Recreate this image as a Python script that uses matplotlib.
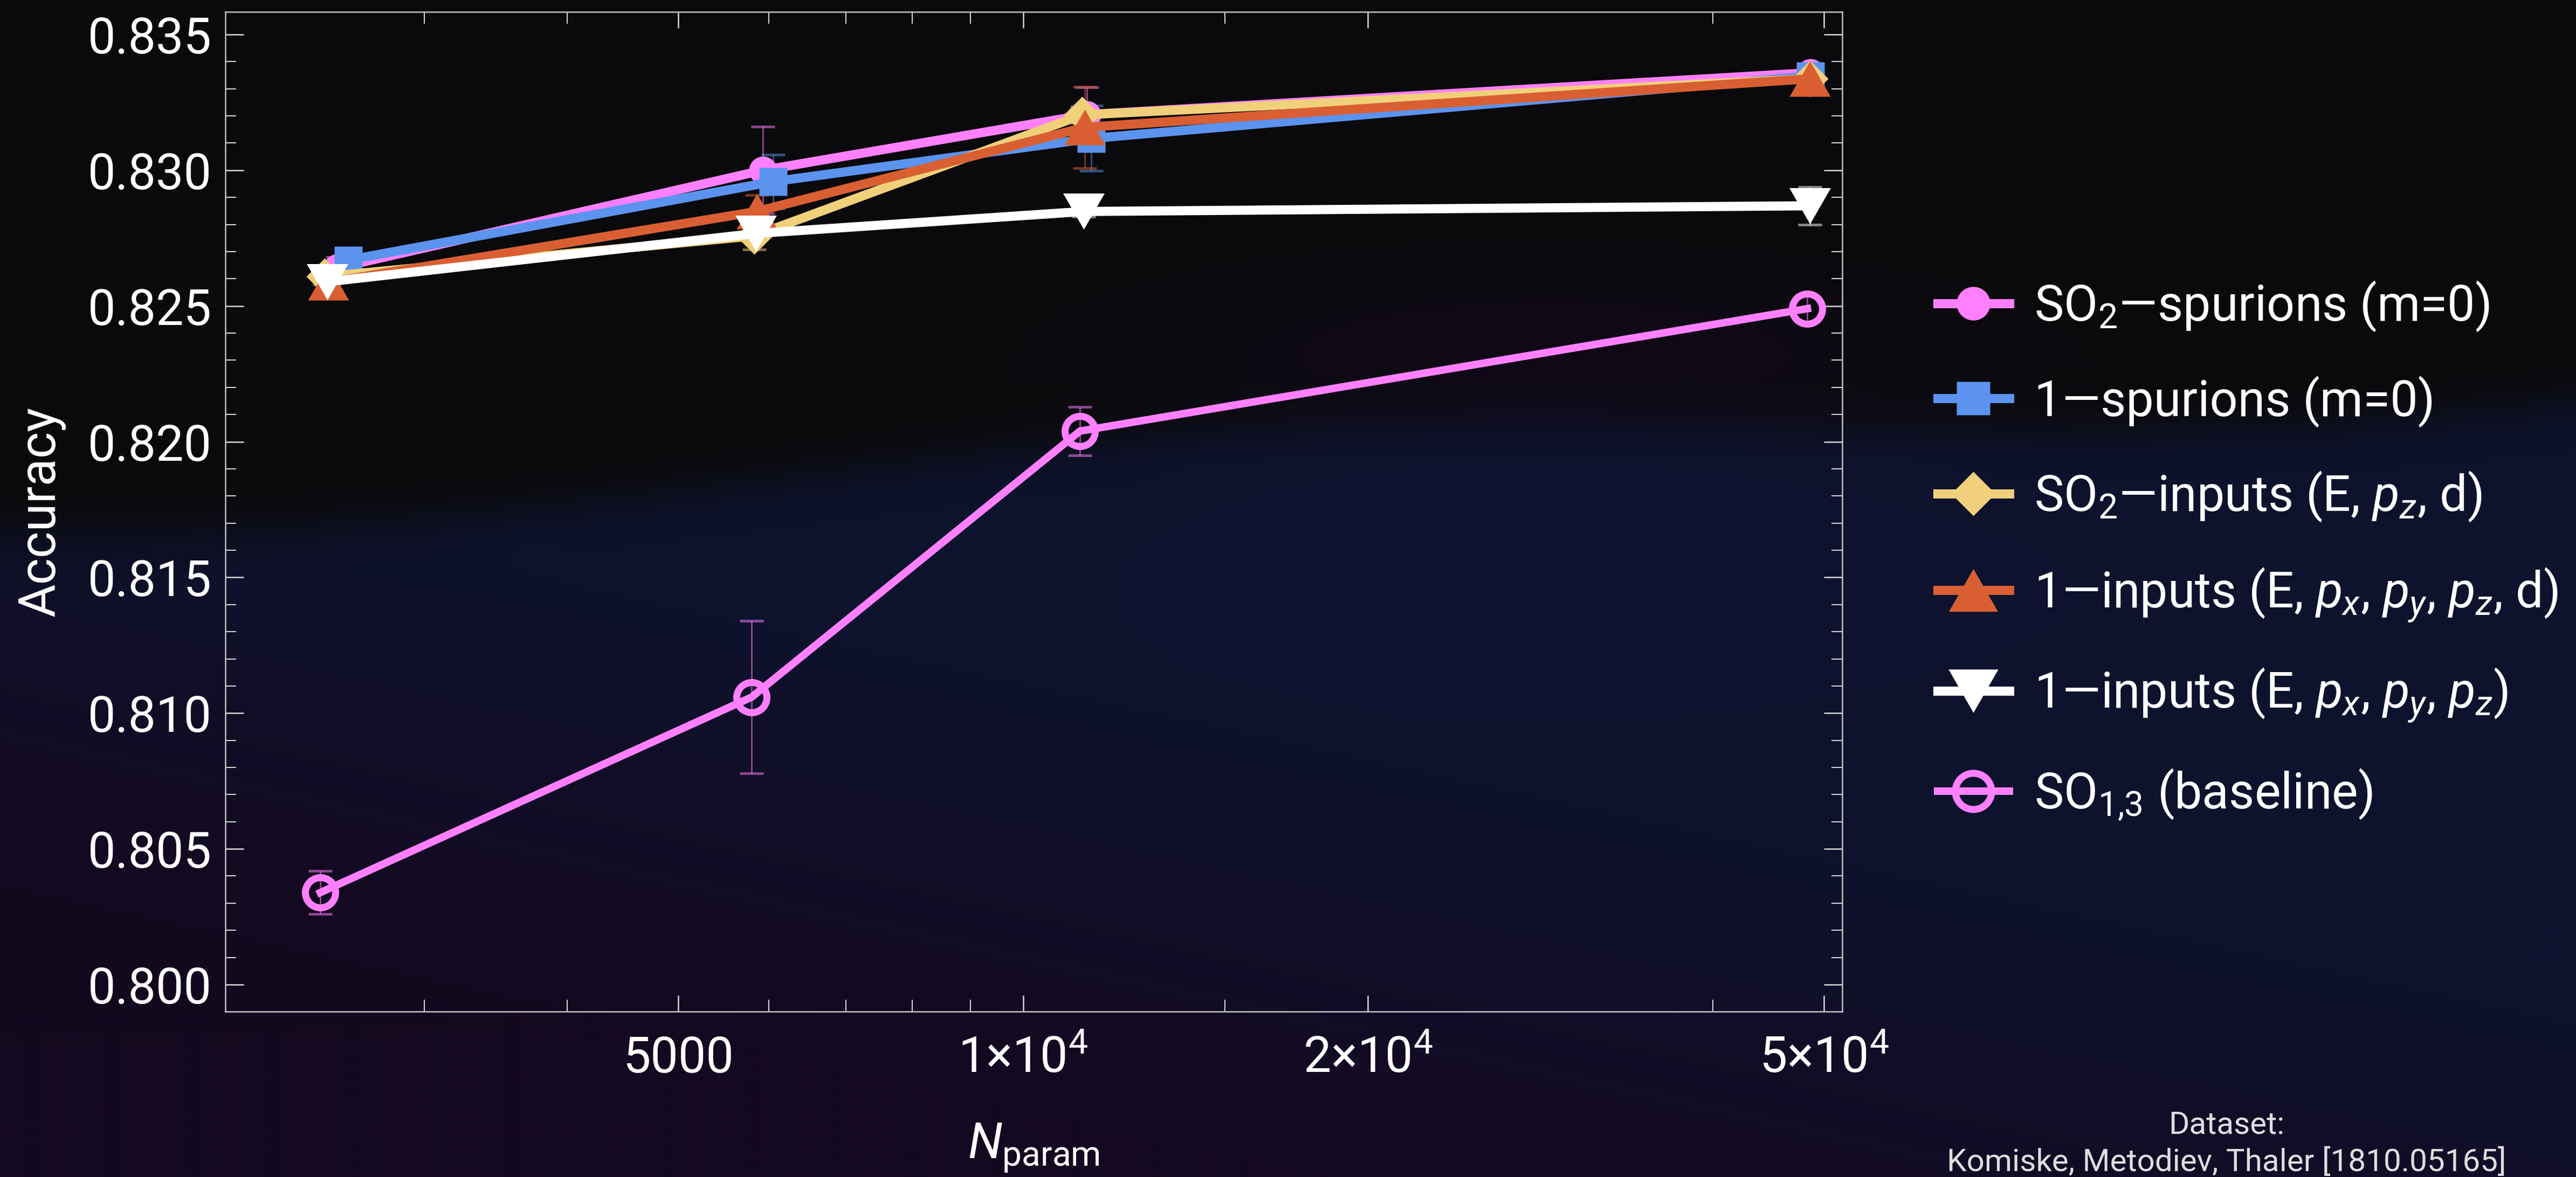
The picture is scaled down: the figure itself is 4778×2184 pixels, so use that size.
import numpy as np
import matplotlib
matplotlib.use('Agg')
import matplotlib.pyplot as plt
from matplotlib.ticker import FixedLocator, NullFormatter

plt.rcParams['font.family'] = ['Roboto', 'DejaVu Sans']
plt.rcParams['mathtext.fontset'] = 'custom'
plt.rcParams['mathtext.rm'] = 'Roboto'
plt.rcParams['mathtext.it'] = 'Roboto:italic'
plt.rcParams['mathtext.bf'] = 'Roboto:bold'

# number of trainable parameters, accuracy and its uncertainty for each model
n_so2_spur = [2520, 5930, 11370, 48650]
acc_so2_spur = [0.82640, 0.83000, 0.83205, 0.83359]
err_so2_spur = [0.0004, 0.0016, 0.0010, 0.0003]

n_one_spur = [2575, 6050, 11470, 48680]
acc_one_spur = [0.82669, 0.82958, 0.83117, 0.83347]
err_one_spur = [0.0003, 0.0010, 0.0012, 0.0003]

n_so2_inp = [2455, 5825, 11260, 48600]
acc_so2_inp = [0.82608, 0.82758, 0.83204, 0.83337]
err_so2_inp = [0.0003, 0.0005, 0.0003, 0.0002]

n_one_inp_d = [2475, 5855, 11320, 48630]
acc_one_inp_d = [0.82587, 0.82848, 0.83158, 0.83337]
err_one_inp_d = [0.0002, 0.0006, 0.0015, 0.0002]

n_one_inp = [2470, 5845, 11300, 48600]
acc_one_inp = [0.82589, 0.82767, 0.82848, 0.82869]
err_one_inp = [0.0002, 0.0002, 0.0002, 0.0007]

n_base = [2435, 5795, 11210, 48370]
acc_base = [0.80339, 0.81059, 0.82039, 0.82490]
err_base = [0.0008, 0.0028, 0.0009, 0.0005]

series_labels = [
    r'SO$_2$—spurions (m=0)',
    r'1—spurions (m=0)',
    r'SO$_2$—inputs (E, $p_z$, d)',
    r'1—inputs (E, $p_x$, $p_y$, $p_z$, d)',
    r'1—inputs (E, $p_x$, $p_y$, $p_z$)',
    r'SO$_{1{,}3}$ (baseline)',
]

x_major = [5000, 10000, 20000, 50000]
x_major_labels = ['5000', '1×10$^{4}$', '2×10$^{4}$', '5×10$^{4}$']
x_minor = [3000, 4000, 6000, 7000, 8000, 9000, 15000, 40000]

DPI = 200


def pt(px):
    """pixels at the output resolution -> points"""
    return px * 72.0 / DPI


tri_up = [(-1, -0.87), (1, -0.87), (0, 0.87)]
tri_down = [(-1, 0.87), (1, 0.87), (0, -0.87)]

fig = plt.figure(figsize=(4778 / DPI, 2184 / DPI), dpi=DPI)

# dark slide background with a soft wavy navy band
bg = fig.add_axes([0, 0, 1, 1], zorder=-10)
h, w = 546, 1195
yy, xx = np.mgrid[0:1:complex(0, h), 0:1:complex(0, w)]
top = np.array([10, 10, 11]) / 255
navy = np.array([14, 19, 46]) / 255
purple = np.array([20, 9, 32]) / 255
edge = 0.44 - 0.11 * xx + 0.02 * np.sin(2 * np.pi * (1.3 * xx + 0.1))
lower = 1 / (1 + np.exp(-(yy - edge) / 0.012))
mix = np.clip(xx * 1.2 + (0.75 - yy) * 2.5, 0, 1)[..., None]
lowcol = purple * (1 - mix) + navy * mix
glow = np.exp(-(((xx - 0.6) / 0.15) ** 2 + ((yy - 0.3) / 0.07) ** 2))[..., None]
img = top * (1 - lower[..., None]) + lowcol * lower[..., None] + glow * (purple - top) * 0.6
bg.imshow(np.clip(img, 0, 1), extent=[0, 1, 0, 1], aspect='auto', interpolation='bilinear')
bg.set_axis_off()

ax = fig.add_axes([418 / 4778, 1 - 1877 / 2184, (3417 - 418) / 4778, (1877 - 22) / 2184])
ax.set_facecolor('none')

lw_main = pt(17)
err_kw = dict(fmt='none', elinewidth=pt(3), capsize=pt(22), capthick=pt(5), alpha=0.5)

styles = [
    (n_so2_spur, acc_so2_spur, err_so2_spur, '#ff80ff', 'o', pt(52)),
    (n_one_spur, acc_one_spur, err_one_spur, '#5b93ef', 's', pt(52)),
    (n_so2_inp, acc_so2_inp, err_so2_inp, '#f0d07a', 'D', pt(48)),
    (n_one_inp_d, acc_one_inp_d, err_one_inp_d, '#d95f33', tri_up, pt(76)),
    (n_one_inp, acc_one_inp, err_one_inp, '#ffffff', tri_down, pt(77)),
]

handles = []
for i, (xs, ys, es, col, mk, ms) in enumerate(styles):
    ax.errorbar(xs, ys, yerr=es, ecolor=col, zorder=1.5, **err_kw)
    line, = ax.plot(xs, ys, color=col, lw=lw_main, marker=mk, ms=ms,
                    mec='none', zorder=3 + i)
    handles.append(line)

ax.errorbar(n_base, acc_base, yerr=err_base, ecolor='#ff80ff', zorder=1.5, **err_kw)
line, = ax.plot(n_base, acc_base, color='#ff80ff', lw=pt(14), marker='o',
                ms=pt(56), mfc='none', mec='#ff80ff', mew=pt(13), zorder=2.5)
handles.append(line)

ax.set_xscale('log')
ax.set_xlim(2012, 51880)
ax.set_ylim(0.799006, 0.835834)

ax.xaxis.set_major_locator(FixedLocator(x_major))
ax.set_xticklabels(x_major_labels)
ax.xaxis.set_minor_locator(FixedLocator(x_minor))
ax.xaxis.set_minor_formatter(NullFormatter())
ax.set_yticks(np.arange(0.800, 0.8351, 0.005))
ax.set_yticklabels([f'{v:.3f}' for v in np.arange(0.800, 0.8351, 0.005)])
ax.yaxis.set_minor_locator(FixedLocator(np.arange(0.799, 0.8359, 0.001)))

for s in ax.spines.values():
    s.set_color('#c4c4c4')
    s.set_linewidth(pt(2.5))

ax.tick_params(which='both', direction='in', top=True, right=True,
               colors='#d8d8d8', labelcolor='white', labelsize=33)
ax.tick_params(axis='x', which='major', length=pt(30), width=pt(2.5), pad=pt(113))
ax.tick_params(axis='x', which='minor', length=pt(22), width=pt(2))
ax.tick_params(axis='y', which='major', length=pt(34), width=pt(2.5), pad=pt(25))
ax.tick_params(axis='y', which='minor', length=pt(20), width=pt(2))
for lbl in ax.get_xticklabels():
    lbl.set_va('baseline')

ax.set_ylabel('Accuracy', color='white', fontsize=34, labelpad=15)
ax.set_xlabel(r'$N_{\mathrm{param}}$', color='white', fontsize=33, labelpad=26)

leg = fig.legend(handles, series_labels, loc='center left',
                 bbox_to_anchor=(3594 / 4778, 1 - 1022 / 2184),
                 frameon=False, fontsize=33, markerscale=1.2,
                 handlelength=1.45, handletextpad=0.5, labelspacing=0.86,
                 borderpad=0, borderaxespad=0, labelcolor='white')

fig.text(4130 / 4778, 1 - 2103 / 2184, 'Dataset:', ha='center', va='baseline',
         fontsize=21, color='#dedede')
fig.text(4130 / 4778, 1 - 2173 / 2184, 'Komiske, Metodiev, Thaler [1810.05165]',
         ha='center', va='baseline', fontsize=21, color='#dedede')

fig.savefig('out.png', dpi=DPI)
